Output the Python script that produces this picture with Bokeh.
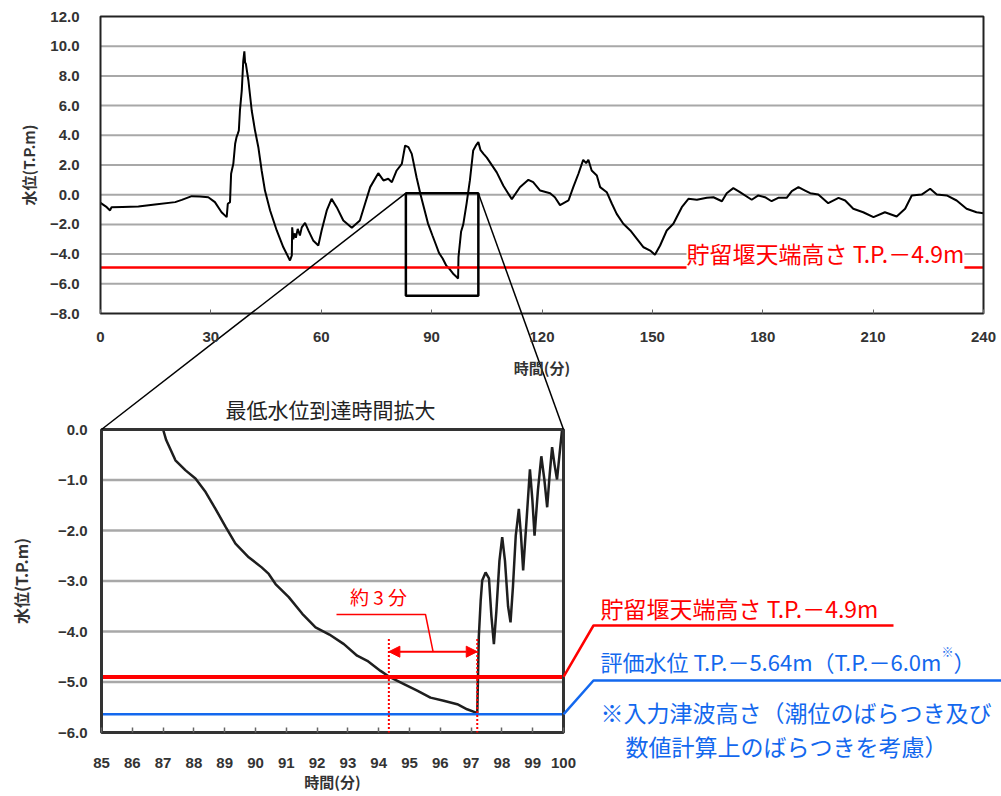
from bokeh.plotting import figure
from bokeh.models import Label, Arrow, NormalHead, Range1d, FixedTicker, LinearAxis
from bokeh.embed import file_html
from bokeh.resources import INLINE

# ---------------- data ----------------
t_top = [0.0, 1.7, 2.6, 3.0, 6.0, 10.3, 14.8, 20.3, 22.1, 24.8, 27.0, 29.3, 31.1, 32.9, 34.3, 34.6,
         35.2, 35.5, 36.1, 36.6, 37.0, 37.3, 37.6, 37.9, 38.4, 38.8, 39.1, 39.3, 39.5, 40.2, 41.1,
         42.0, 42.9, 43.8, 44.7, 46.1, 47.9, 49.7, 51.5, 52.0, 52.1, 52.4, 52.7, 53.1, 53.6, 54.2,
         54.7, 55.6, 56.5, 57.8, 59.2, 60.1, 61.5, 62.8, 64.2, 66.0, 68.3, 70.5, 71.9, 73.3, 75.5,
         76.9, 78.2, 79.2, 80.5, 81.9, 82.8, 83.7, 84.6, 85.9, 87.0, 88.0, 89.0, 90.2, 91.1, 92.0,
         93.0, 94.0, 95.0, 96.0, 96.8, 97.2, 97.3, 98.0, 98.6, 99.5, 100.4, 101.3, 102.0, 102.7,
         103.3, 104.1, 105.0, 107.7, 109.5, 111.8, 114.0, 116.3, 117.6, 119.5, 122.2, 123.5, 124.9,
         127.2, 128.5, 129.9, 131.2, 132.0, 132.6, 133.5, 134.9, 135.8, 137.6, 139.0, 140.3, 142.1,
         144.0, 145.8, 147.6, 149.4, 150.7, 152.1, 153.9, 155.7, 158.0, 159.8, 162.1, 164.8, 166.6,
         168.9, 170.2, 172.0, 173.8, 177.0, 178.8, 180.6, 182.4, 184.2, 186.5, 187.9, 189.7, 191.5,
         192.9, 195.1, 197.8, 200.6, 202.4, 204.6, 207.3, 210.1, 213.2, 216.4, 218.7, 220.5, 223.2,
         225.5, 227.3, 230.0, 232.7, 235.4, 238.1, 240.0]
v_top = [-0.55, -0.84, -1.06, -0.84, -0.82, -0.80, -0.66, -0.50, -0.35, -0.10, -0.12, -0.17, -0.50,
         -1.18, -1.51, -0.61, -0.50, 1.41, 2.08, 3.43, 3.90, 4.10, 4.32, 5.67, 7.02, 9.00, 9.65, 8.90,
         8.82, 7.69, 5.67, 4.32, 3.20, 1.63, 0.28, -1.06, -2.41, -3.54, -4.43, -4.09, -2.19, -3.00,
         -2.60, -2.90, -2.30, -2.75, -2.20, -1.90, -2.40, -3.08, -3.42, -2.41, -1.06, -0.28, -0.84,
         -1.74, -2.23, -1.74, -0.61, 0.51, 1.45, 0.96, 1.07, 0.84, 1.63, 2.08, 3.31, 3.20, 2.75, 1.18,
         0.00, -0.97, -1.93, -2.73, -3.32, -3.92, -4.30, -4.78, -5.04, -5.36, -5.54, -5.64, -4.20,
         -2.50, -2.00, -0.60, 0.96, 2.98, 3.30, 3.54, 3.00, 2.75, 2.50, 1.50, 0.60, -0.30, 0.50, 1.00,
         0.84, 0.28, 0.10, -0.17, -0.70, -0.39, 0.51, 1.41, 2.35, 2.12, 2.35, 1.63, 1.29, 0.51, 0.17,
         -0.61, -1.29, -1.96, -2.41, -2.97, -3.54, -3.76, -4.05, -3.42, -2.41, -1.96, -0.84, -0.28,
         -0.34, -0.21, -0.17, -0.44, 0.10, 0.44, 0.17, -0.34, -0.05, -0.17, -0.44, -0.21, -0.21, 0.24,
         0.51, 0.28, 0.10, 0.01, -0.57, -0.21, -0.39, -0.95, -1.18, -1.51, -1.18, -1.47, -0.95, -0.05,
         0.01, 0.40, 0.01, -0.05, -0.39, -0.95, -1.18, -1.25]

t_zoom = [87.0, 87.1, 87.4, 87.73, 88.05, 88.38, 88.7, 89.03, 89.35, 89.78, 90.2, 90.43, 90.65, 91.08,
          91.52, 91.95, 92.4, 92.87, 93.3, 93.63, 94.06, 94.38, 94.82, 95.25, 95.68, 96.11, 96.55,
          96.87, 97.14, 97.2, 97.25, 97.31, 97.36, 97.47, 97.58, 97.66, 97.74, 97.82, 97.92, 98.01,
          98.1, 98.2, 98.28, 98.36, 98.45, 98.55, 98.62, 98.69, 98.8, 98.91, 98.99, 99.06, 99.17,
          99.28, 99.38, 99.47, 99.55, 99.63, 99.71, 99.79, 99.87, 99.95, 100.0]
v_zoom = [0.0, -0.21, -0.61, -0.81, -0.97, -1.24, -1.57, -1.93, -2.26, -2.53, -2.73, -2.86, -3.06,
          -3.32, -3.65, -3.92, -4.06, -4.25, -4.48, -4.58, -4.78, -4.91, -5.04, -5.17, -5.31, -5.37,
          -5.44, -5.54, -5.60, -5.64, -4.11, -3.40, -2.99, -2.83, -2.95, -3.70, -4.25, -3.60, -2.60,
          -2.13, -2.60, -3.50, -3.82, -3.10, -2.10, -1.57, -2.10, -2.79, -1.80, -0.79, -1.40, -2.10,
          -1.20, -0.53, -1.00, -1.54, -0.90, -0.35, -0.70, -0.99, -0.50, -0.02, -0.15]

x_ticks_top = [0, 30, 60, 90, 120, 150, 180, 210, 240]
y_ticks_top = [-8, -6, -4, -2, 0, 2, 4, 6, 8, 10, 12]
y_labels_top = ["\u22128.0", "\u22126.0", "\u22124.0", "\u22122.0", "0.0", "2.0", "4.0", "6.0", "8.0",
                "10.0", "12.0"]
x_ticks_zoom = [85, 86, 87, 88, 89, 90, 91, 92, 93, 94, 95, 96, 97, 98, 99, 100]
y_ticks_zoom = [-6, -5, -4, -3, -2, -1, 0]
y_labels_zoom = ["\u22126.0", "\u22125.0", "\u22124.0", "\u22123.0", "\u22122.0", "\u22121.0", "0.0"]

top_x_lim = [0, 240]
top_y_lim = [-8, 12]
zoom_x_lim = [85, 100]
zoom_y_lim = [-6, 0]

crest_level = -4.9      # 貯留堰天端高さ
eval_level = -5.64      # 評価水位
t_cross = 94.33         # time the level passes the crest
t_min = 97.2            # time of minimum level
zoom_box = [83.0, 102.7, -6.8, 0.1]   # left, right, bottom, top of the box drawn on the top chart

RED = "#ff0000"
BLUE = "#1368ee"
JP = "Noto Sans CJK JP"
NUM = "Liberation Sans"
TXT = "#333333"

# ---------------- page geometry (pixels) ----------------
W, H = 1001, 796
PX0, PY0 = 0, 0
T_L, T_R, T_T, T_B = 100, 983, 16, 313     # top plot area
B_L, B_R, B_T, B_B = 101, 563, 429, 732    # enlarged plot area


def lin(a0, a1, b0, b1):
    return lambda a: b0 + (a - a0) * (b1 - b0) / (a1 - a0)


# data -> page and page -> data helpers
tpx = lin(top_x_lim[0], top_x_lim[1], T_L, T_R)
tpy = lin(top_y_lim[1], top_y_lim[0], T_T, T_B)
bpx = lin(zoom_x_lim[0], zoom_x_lim[1], B_L, B_R)
bpy = lin(zoom_y_lim[1], zoom_y_lim[0], B_T, B_B)
top_x = lin(T_L, T_R, top_x_lim[0], top_x_lim[1])
top_y = lin(T_T, T_B, top_y_lim[1], top_y_lim[0])
bot_x = lin(B_L, B_R, zoom_x_lim[0], zoom_x_lim[1])
bot_y = lin(B_T, B_B, zoom_y_lim[1], zoom_y_lim[0])

p = figure(width=W, height=H, x_range=Range1d(PX0, PX0 + W), y_range=Range1d(PY0 + H, PY0),
           x_axis_type=None, y_axis_type=None, output_backend="svg", toolbar_location=None,
           min_border=0, min_border_left=0, min_border_right=0, min_border_top=0,
           min_border_bottom=0)
p.outline_line_color = None
p.background_fill_color = "white"
p.border_fill_color = "white"
p.extra_x_ranges = {"tx": Range1d(top_x(PX0), top_x(PX0 + W)),
                    "bx": Range1d(bot_x(PX0), bot_x(PX0 + W))}
p.extra_y_ranges = {"ty": Range1d(top_y(PY0 + H), top_y(PY0)),
                    "by": Range1d(bot_y(PY0 + H), bot_y(PY0))}
T = dict(x_range_name="tx", y_range_name="ty")
B = dict(x_range_name="bx", y_range_name="by")

# ---------------- top chart ----------------
g_top = [v for v in y_ticks_top if top_y_lim[0] < v < top_y_lim[1]]
p.segment(x0=[top_x_lim[0]] * len(g_top), x1=[top_x_lim[1]] * len(g_top), y0=g_top, y1=g_top,
          line_color="#a8a8a8", line_width=2, **T)
p.line(t_top, v_top, line_color="black", line_width=2, **T)
p.segment(x0=[top_x_lim[0]], x1=[top_x_lim[1]], y0=[crest_level], y1=[crest_level],
          line_color=RED, line_width=2.5, **T)
p.quad(left=[top_x_lim[0]], right=[top_x_lim[1]], bottom=[top_y_lim[0]], top=[top_y_lim[1]],
       fill_color=None, line_color="#222222", line_width=2, **T)
p.quad(left=[zoom_box[0]], right=[zoom_box[1]], bottom=[zoom_box[2]], top=[zoom_box[3]],
       fill_color=None, line_color="black", line_width=2.5, **T)

ay1 = LinearAxis(fixed_location=top_x_lim[0], bounds=(top_y_lim[0], top_y_lim[1]),
                 ticker=FixedTicker(ticks=y_ticks_top),
                 major_label_overrides={k: s for k, s in zip(y_ticks_top, y_labels_top)},
                 axis_line_color=None, major_tick_line_color=None, minor_tick_line_color=None,
                 major_label_standoff=15, major_label_text_font=NUM,
                 major_label_text_font_style="bold", major_label_text_font_size="15px",
                 major_label_text_color=TXT, axis_label="水位(T.P.m)", axis_label_text_font=JP,
                 axis_label_text_font_style="bold", axis_label_text_font_size="15px",
                 axis_label_text_color=TXT, axis_label_standoff=8, **T)
p.add_layout(ay1, "left")
ax1 = LinearAxis(fixed_location=top_y_lim[0], bounds=(top_x_lim[0], top_x_lim[1]),
                 ticker=FixedTicker(ticks=x_ticks_top), axis_line_color=None,
                 major_tick_in=4, major_tick_out=0, major_tick_line_color="#666666",
                 minor_tick_line_color=None, major_label_standoff=18, major_label_text_font=NUM,
                 major_label_text_font_style="bold", major_label_text_font_size="15px",
                 major_label_text_color=TXT, axis_label="時間(分)", axis_label_text_font=JP,
                 axis_label_text_font_style="bold", axis_label_text_font_size="15px",
                 axis_label_text_color=TXT, axis_label_standoff=12, **T)
p.add_layout(ax1, "below")

# ---------------- enlarged chart ----------------
g_zoom = [v for v in y_ticks_zoom if zoom_y_lim[0] < v < zoom_y_lim[1]]
p.segment(x0=[zoom_x_lim[0]] * len(g_zoom), x1=[zoom_x_lim[1]] * len(g_zoom), y0=g_zoom,
          y1=g_zoom, line_color="#a8a8a8", line_width=2.5, **B)
p.line(t_zoom, v_zoom, line_color="#1e1e1e", line_width=2.5, **B)
p.segment(x0=[zoom_x_lim[0]], x1=[zoom_x_lim[1]], y0=[crest_level], y1=[crest_level],
          line_color=RED, line_width=4, **B)
p.segment(x0=[zoom_x_lim[0]], x1=[zoom_x_lim[1]], y0=[eval_level], y1=[eval_level],
          line_color=BLUE, line_width=2.5, **B)
p.quad(left=[zoom_x_lim[0]], right=[zoom_x_lim[1]], bottom=[zoom_y_lim[0]], top=[zoom_y_lim[1]],
       fill_color=None, line_color="#333333", line_width=3, **B)

arrow_v = -4.4
p.segment(x0=[t_cross, t_min], x1=[t_cross, t_min], y0=[-4.15, -4.15],
          y1=[zoom_y_lim[0]] * 2, line_color=RED, line_width=2, line_dash="2 2", **B)
p.add_layout(Arrow(start=NormalHead(size=11, fill_color=RED, line_color=RED),
                   end=NormalHead(size=11, fill_color=RED, line_color=RED),
                   x_start=t_cross, y_start=arrow_v, x_end=t_min, y_end=arrow_v,
                   line_color=RED, line_width=2, **B))
# call-out leader for 約3分 (page pixels)
p.line([336, 425, bpx((t_cross + t_min) / 2)], [614, 614, bpy(arrow_v)],
       line_color=RED, line_width=1.5)
p.add_layout(Label(x=378, y=596, text="約 3 分", text_font=JP, text_font_size="19px",
                   text_color=RED, text_baseline="middle", text_align="center"))

ay2 = LinearAxis(fixed_location=zoom_x_lim[0], bounds=(zoom_y_lim[0], zoom_y_lim[1]),
                 ticker=FixedTicker(ticks=y_ticks_zoom),
                 major_label_overrides={k: s for k, s in zip(y_ticks_zoom, y_labels_zoom)},
                 axis_line_color=None, major_tick_line_color=None, minor_tick_line_color=None,
                 major_label_standoff=8, major_label_text_font=NUM,
                 major_label_text_font_style="bold", major_label_text_font_size="15px",
                 major_label_text_color=TXT, axis_label="水位(T.P.m)", axis_label_text_font=JP,
                 axis_label_text_font_style="bold", axis_label_text_font_size="16px",
                 axis_label_text_color=TXT, axis_label_standoff=22, **B)
p.add_layout(ay2, "left")
ax2 = LinearAxis(fixed_location=zoom_y_lim[0], bounds=(zoom_x_lim[0], zoom_x_lim[1]),
                 ticker=FixedTicker(ticks=x_ticks_zoom), axis_line_color=None,
                 major_tick_in=5, major_tick_out=0, major_tick_line_color="#666666",
                 major_tick_line_width=1.5, minor_tick_line_color=None, major_label_standoff=25,
                 major_label_text_font=NUM, major_label_text_font_style="bold",
                 major_label_text_font_size="15px", major_label_text_color=TXT,
                 axis_label="時間(分)", axis_label_text_font=JP, axis_label_text_font_style="bold",
                 axis_label_text_font_size="15px", axis_label_text_color=TXT,
                 axis_label_standoff=0, **B)
p.add_layout(ax2, "below")

# ---------------- connectors and call-outs (page pixels) ----------------
p.line([tpx(zoom_box[0]), bpx(zoom_x_lim[0])], [tpy(zoom_box[3]), bpy(zoom_y_lim[1])],
       line_color="black", line_width=1.5)
p.line([tpx(zoom_box[1]), bpx(zoom_x_lim[1])], [tpy(zoom_box[3]), bpy(zoom_y_lim[1])],
       line_color="black", line_width=1.5)
p.add_layout(Label(x=330, y=408, text="最低水位到達時間拡大", text_font=JP, text_font_size="21px",
                   text_color="#222222", text_baseline="middle", text_align="center"))

p.add_layout(Label(x=686, y=252, text="貯留堰天端高さ T.P.－4.9m", text_font=JP,
                   text_font_size="23px", text_color=RED, text_baseline="middle",
                   text_align="left", background_fill_color="white", padding=0))

p.line([bpx(zoom_x_lim[1]), 593, 893], [bpy(crest_level), 625, 625], line_color=RED,
       line_width=2.5)
p.line([bpx(zoom_x_lim[1]), 593, PX0 + W], [bpy(eval_level), 680, 680], line_color=BLUE,
       line_width=2.5)

for px, py, txt, col, fs in [
    (600, 607, "貯留堰天端高さ T.P.－4.9m", RED, "23px"),
    (600, 660, "評価水位 T.P.－5.64m（T.P.－6.0m", BLUE, "22px"),
    (941, 651, "※", BLUE, "12px"),
    (953, 660, "）", BLUE, "22px"),
    (600, 711, "※入力津波高さ（潮位のばらつき及び", BLUE, "23px"),
    (625, 745, "数値計算上のばらつきを考慮）", BLUE, "23px"),
]:
    p.add_layout(Label(x=px, y=py, text=txt, text_font=JP, text_font_size=fs,
                       text_color=col, text_baseline="middle", text_align="left"))

open("out.html", "w").write(file_html(p, INLINE))
